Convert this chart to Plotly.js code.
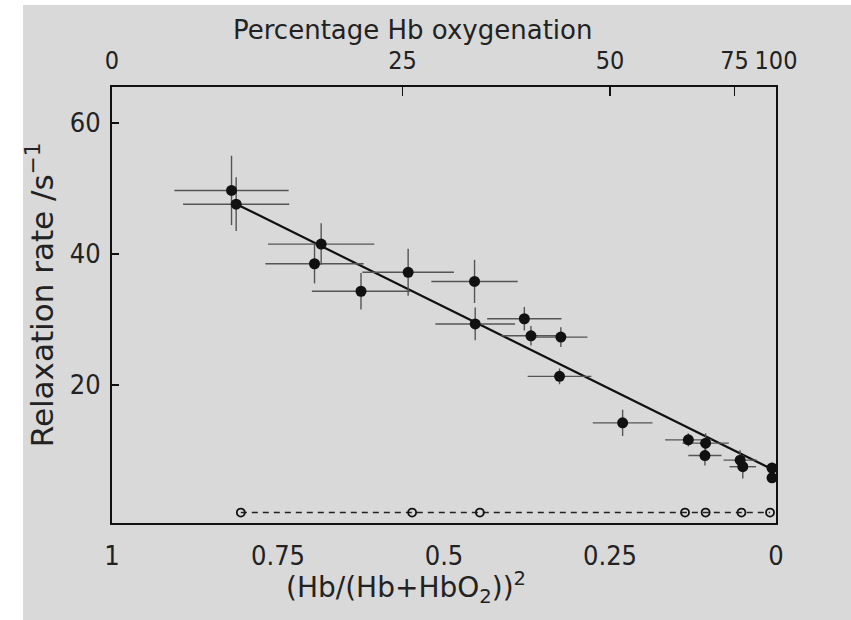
<!DOCTYPE html>
<html>
<head>
<meta charset="utf-8">
<script src="https://cdn.plot.ly/plotly-3.0.1.min.js"></script>
<style>html,body{margin:0;padding:0;background:#d9d9d9;overflow:hidden;width:851px;height:620px;}</style>
</head>
<body>
<div id="chart" style="width:851px;height:620px;"></div>
<script>
// Filled points: x = (Hb/(Hb+HbO2))^2, y = relaxation rate (s^-1)
const hbFraction = [0.820, 0.813, 0.685, 0.695, 0.625, 0.554, 0.454, 0.453, 0.379, 0.369, 0.324, 0.326, 0.231, 0.132, 0.106, 0.107, 0.054, 0.050, 0.006, 0.006];
const relaxRate  = [49.7, 47.6, 41.5, 38.5, 34.3, 37.2, 35.8, 29.3, 30.1, 27.5, 27.3, 21.3, 14.2, 11.6, 11.1, 9.2, 8.5, 7.5, 7.3, 5.8];
const xError     = [0.086, 0.080, 0.080, 0.074, 0.074, 0.069, 0.065, 0.060, 0.056, 0.045, 0.040, 0.048, 0.045, 0.035, 0.035, 0.025, 0.025, 0.020, 0, 0];
const yError     = [5.3, 4.1, 3.2, 3.0, 2.8, 3.6, 3.3, 2.5, 1.8, 1.5, 1.5, 1.2, 2.0, 1.0, 1.5, 1.5, 1.5, 1.8, 0.8, 0.8];

// Open points (control) along the dashed line
const openX = [0.806, 0.548, 0.446, 0.137, 0.106, 0.052, 0.009];
const openY = [0.5, 0.5, 0.5, 0.5, 0.5, 0.5, 0.5];

// Fitted straight line end points
const fitX = [0.8125, 0];
const fitY = [47.6, 6.8];

// Tick labels
const bottomTickVals = [1, 0.75, 0.5, 0.25, 0];
const bottomTickText = ["1", "0.75", "0.5", "0.25", "0"];
const pctTicks = [0, 25, 50, 75, 100];
const yTickVals = [20, 40, 60];

const topTickVals = pctTicks.map(p => Math.pow(1 - p / 100, 2));
const topTickText = pctTicks.map(String);

const FONT = "DejaVu Sans Condensed, DejaVu Sans, sans-serif";
const TITLEFONT = "DejaVu Sans, sans-serif";

const traces = [
  {
    x: openX, y: openY, type: "scatter", mode: "lines+markers",
    line: {color: "#222", width: 1.6, dash: "6px,5px"},
    marker: {symbol: "circle-open", size: 8, color: "#111", line: {width: 1.8}},
    hoverinfo: "skip", showlegend: false
  },
  {
    x: fitX, y: fitY, type: "scatter", mode: "lines",
    line: {color: "#111", width: 2.2},
    hoverinfo: "skip", showlegend: false
  },
  {
    x: hbFraction, y: relaxRate, type: "scatter", mode: "markers",
    marker: {symbol: "circle", size: 11, color: "#111"},
    error_x: {type: "data", array: xError, visible: true, color: "#555", thickness: 1.4, width: 0},
    error_y: {type: "data", array: yError, visible: true, color: "#555", thickness: 1.4, width: 0},
    showlegend: false
  },
  // invisible trace to activate the top axis
  {x: [0.5], y: [null], xaxis: "x2", yaxis: "y", type: "scatter", mode: "markers",
   hoverinfo: "skip", showlegend: false}
];

const layout = {
  width: 851, height: 620,
  margin: {l: 112, r: 75, t: 87, b: 97, pad: 0},
  paper_bgcolor: "#d9d9d9",
  plot_bgcolor: "#d9d9d9",
  showlegend: false,
  xaxis: {
    range: [1, 0], showgrid: false, zeroline: false,
    showline: true, linecolor: "#111", linewidth: 2,
    tickmode: "array", tickvals: bottomTickVals, ticktext: bottomTickText,
    ticks: "", tickangle: 0, ticklabelstandoff: 8,
    tickfont: {family: FONT, size: 27, color: "#222"}
  },
  xaxis2: {
    overlaying: "x", side: "top", anchor: "y", matches: "x",
    range: [1, 0], showgrid: false, zeroline: false,
    showline: true, linecolor: "#111", linewidth: 2,
    tickmode: "array", tickvals: topTickVals, ticktext: topTickText,
    ticks: "inside", ticklen: 9, tickwidth: 1.5, tickcolor: "#111",
    tickangle: 0, ticklabelstandoff: 6,
    tickfont: {family: FONT, size: 25, color: "#222"}
  },
  yaxis: {
    range: [-1.1, 65.5], showgrid: false, zeroline: false,
    showline: true, mirror: true, linecolor: "#111", linewidth: 2,
    tickmode: "array", tickvals: yTickVals,
    ticks: "inside", ticklen: 7, tickwidth: 1.5, tickcolor: "#111",
    ticklabelstandoff: 4,
    tickfont: {family: FONT, size: 27, color: "#222"}
  },
  shapes: [
    {type: "rect", xref: "paper", yref: "paper", x0: -0.17, x1: -0.134, y0: -0.23, y1: 1.21,
     fillcolor: "#ffffff", line: {width: 0}, layer: "below"},
    {type: "rect", xref: "paper", yref: "paper", x0: -0.17, x1: 1.12, y0: 1.188, y1: 1.21,
     fillcolor: "#ffffff", line: {width: 0}, layer: "below"}
  ],
  annotations: [
    {text: "Percentage Hb oxygenation", xref: "paper", yref: "paper", x: 0.453, y: 1.131,
     xanchor: "center", yanchor: "middle", showarrow: false,
     font: {family: TITLEFONT, size: 26, color: "#222"}},
    {text: "(Hb/(Hb+HbO<sub>2</sub>))<sup>2</sup>", xref: "paper", yref: "paper", x: 0.443, y: -0.147,
     xanchor: "center", yanchor: "middle", showarrow: false,
     font: {family: TITLEFONT, size: 28, color: "#222"}},
    {text: "Relaxation rate /s<sup>\u22121</sup>", xref: "paper", yref: "paper", x: -0.108, y: 0.523,
     xanchor: "center", yanchor: "middle", showarrow: false, textangle: -90,
     font: {family: TITLEFONT, size: 31, color: "#222"}}
  ]
};

Plotly.newPlot("chart", traces, layout, {displayModeBar: false, staticPlot: true});
</script>
</body>
</html>
